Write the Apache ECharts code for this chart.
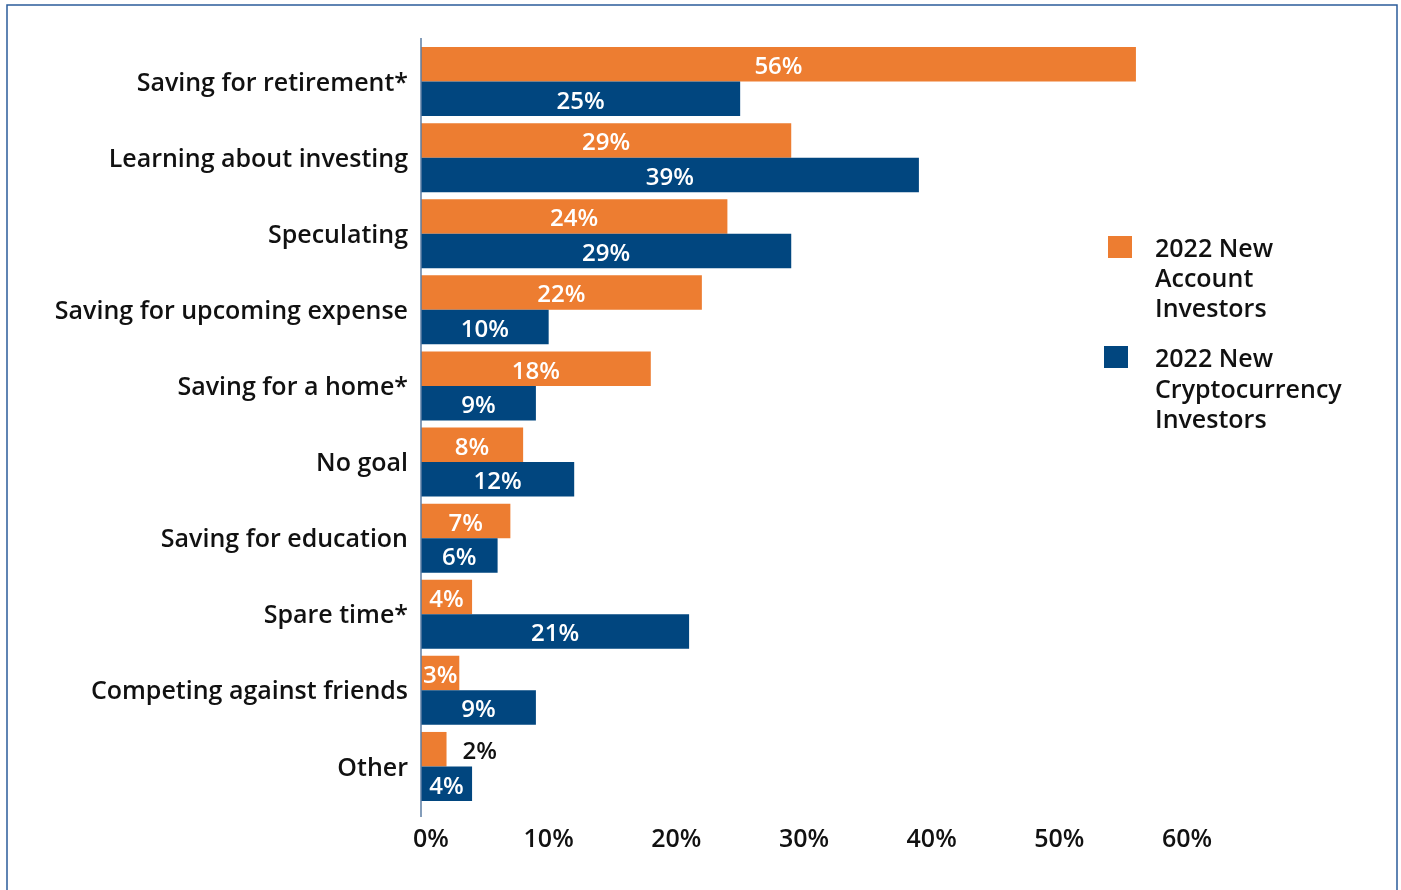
<!DOCTYPE html>
<html>
<head>
<meta charset="utf-8">
<script src="https://cdn.jsdelivr.net/npm/echarts@6/dist/echarts.min.js"></script>
<style>
  html, body { margin: 0; padding: 0; background: #fff; }
  #chart { width: 1401px; height: 890px; }
</style>
</head>
<body>
<div id="chart"></div>
<script>
// Investment goals by investor group (percent of respondents)
const categories = [
  'Saving for retirement*',
  'Learning about investing',
  'Speculating',
  'Saving for upcoming expense',
  'Saving for a home*',
  'No goal',
  'Saving for education',
  'Spare time*',
  'Competing against friends',
  'Other'
];
const seriesNames = ['2022 New Account Investors', '2022 New Cryptocurrency Investors'];
const legendLabels = ['2022 New\nAccount\nInvestors', '2022 New\nCryptocurrency\nInvestors'];
const newAccountValues = [56, 29, 24, 22, 18, 8, 7, 4, 3, 2];
const cryptoValues = [25, 39, 29, 10, 9, 12, 6, 21, 9, 4];
const xTicks = [0, 10, 20, 30, 40, 50, 60];

const ORANGE = '#ED7D31';
const BLUE = '#01467F';
const FONT = '"Open Sans", "Noto Sans", sans-serif';
const WEIGHT = 600;

const chart = echarts.init(document.getElementById('chart'));

// Small values whose label sits outside the bar
function withLabels(values, outsideIdx) {
  return values.map((v, i) => {
    if (outsideIdx.indexOf(i) >= 0) {
      return { value: v, label: { position: 'right', distance: 16, color: '#111' } };
    }
    return v;
  });
}

const barLabel = {
  show: true,
  position: 'inside',
  color: '#fff',
  fontSize: 24,
  fontWeight: WEIGHT,
  fontFamily: FONT,
  offset: [0, 3],
  formatter: p => p.value + '%'
};

const tickText = { fontSize: 25, fontWeight: WEIGHT, color: '#111', fontFamily: FONT };

chart.setOption({
  animation: false,
  backgroundColor: '#fff',
  grid: { left: 421, right: 214, top: 43.5, height: 761, containLabel: false },
  xAxis: {
    type: 'value',
    min: xTicks[0],
    max: xTicks[xTicks.length - 1],
    interval: 10,
    axisLine: { show: false },
    axisTick: { show: false },
    splitLine: { show: false },
    axisLabel: Object.assign({
      margin: 23,
      formatter: v => v === xTicks[0] ? '{first|' + v + '%}' : v + '%',
      rich: { first: Object.assign({ padding: [0, 0, 0, 20] }, tickText) }
    }, tickText)
  },
  yAxis: {
    type: 'category',
    data: categories,
    inverse: true,
    axisLine: { show: false },
    axisTick: { show: false },
    axisLabel: Object.assign({
      margin: 13,
      formatter: v => '{c|' + v + '}',
      rich: { c: Object.assign({ padding: [4, 0, 0, 0] }, tickText) }
    }, tickText)
  },
  series: [
    {
      name: seriesNames[0],
      type: 'bar',
      data: withLabels(newAccountValues, [9]),
      itemStyle: { color: ORANGE },
      barWidth: 34.5,
      barGap: '0%',
      label: barLabel
    },
    {
      name: seriesNames[1],
      type: 'bar',
      data: withLabels(cryptoValues, []),
      itemStyle: { color: BLUE },
      barWidth: 34.5,
      barGap: '0%',
      label: barLabel
    }
  ],
  graphic: [
    // outer frame
    { type: 'rect', shape: { x: 7, y: 5, width: 1390, height: 900 },
      style: { fill: 'none', stroke: '#2B5C9A', lineWidth: 1.5 }, silent: true },
    // category axis line
    { type: 'line', shape: { x1: 421, y1: 38, x2: 421, y2: 817 },
      style: { stroke: '#5B7DA3', lineWidth: 1.5 }, z: 10 },
    // legend
    { type: 'rect', shape: { x: 1108, y: 236, width: 24, height: 22 }, style: { fill: ORANGE } },
    { type: 'text', left: 1155, top: 235,
      style: { text: legendLabels[0], fontSize: 25, fontWeight: WEIGHT, lineHeight: 30, fill: '#111', fontFamily: FONT } },
    { type: 'rect', shape: { x: 1104, y: 346, width: 24, height: 22 }, style: { fill: BLUE } },
    { type: 'text', left: 1155, top: 345,
      style: { text: legendLabels[1], fontSize: 25, fontWeight: WEIGHT, lineHeight: 30.5, fill: '#111', fontFamily: FONT } }
  ]
});
</script>
</body>
</html>
